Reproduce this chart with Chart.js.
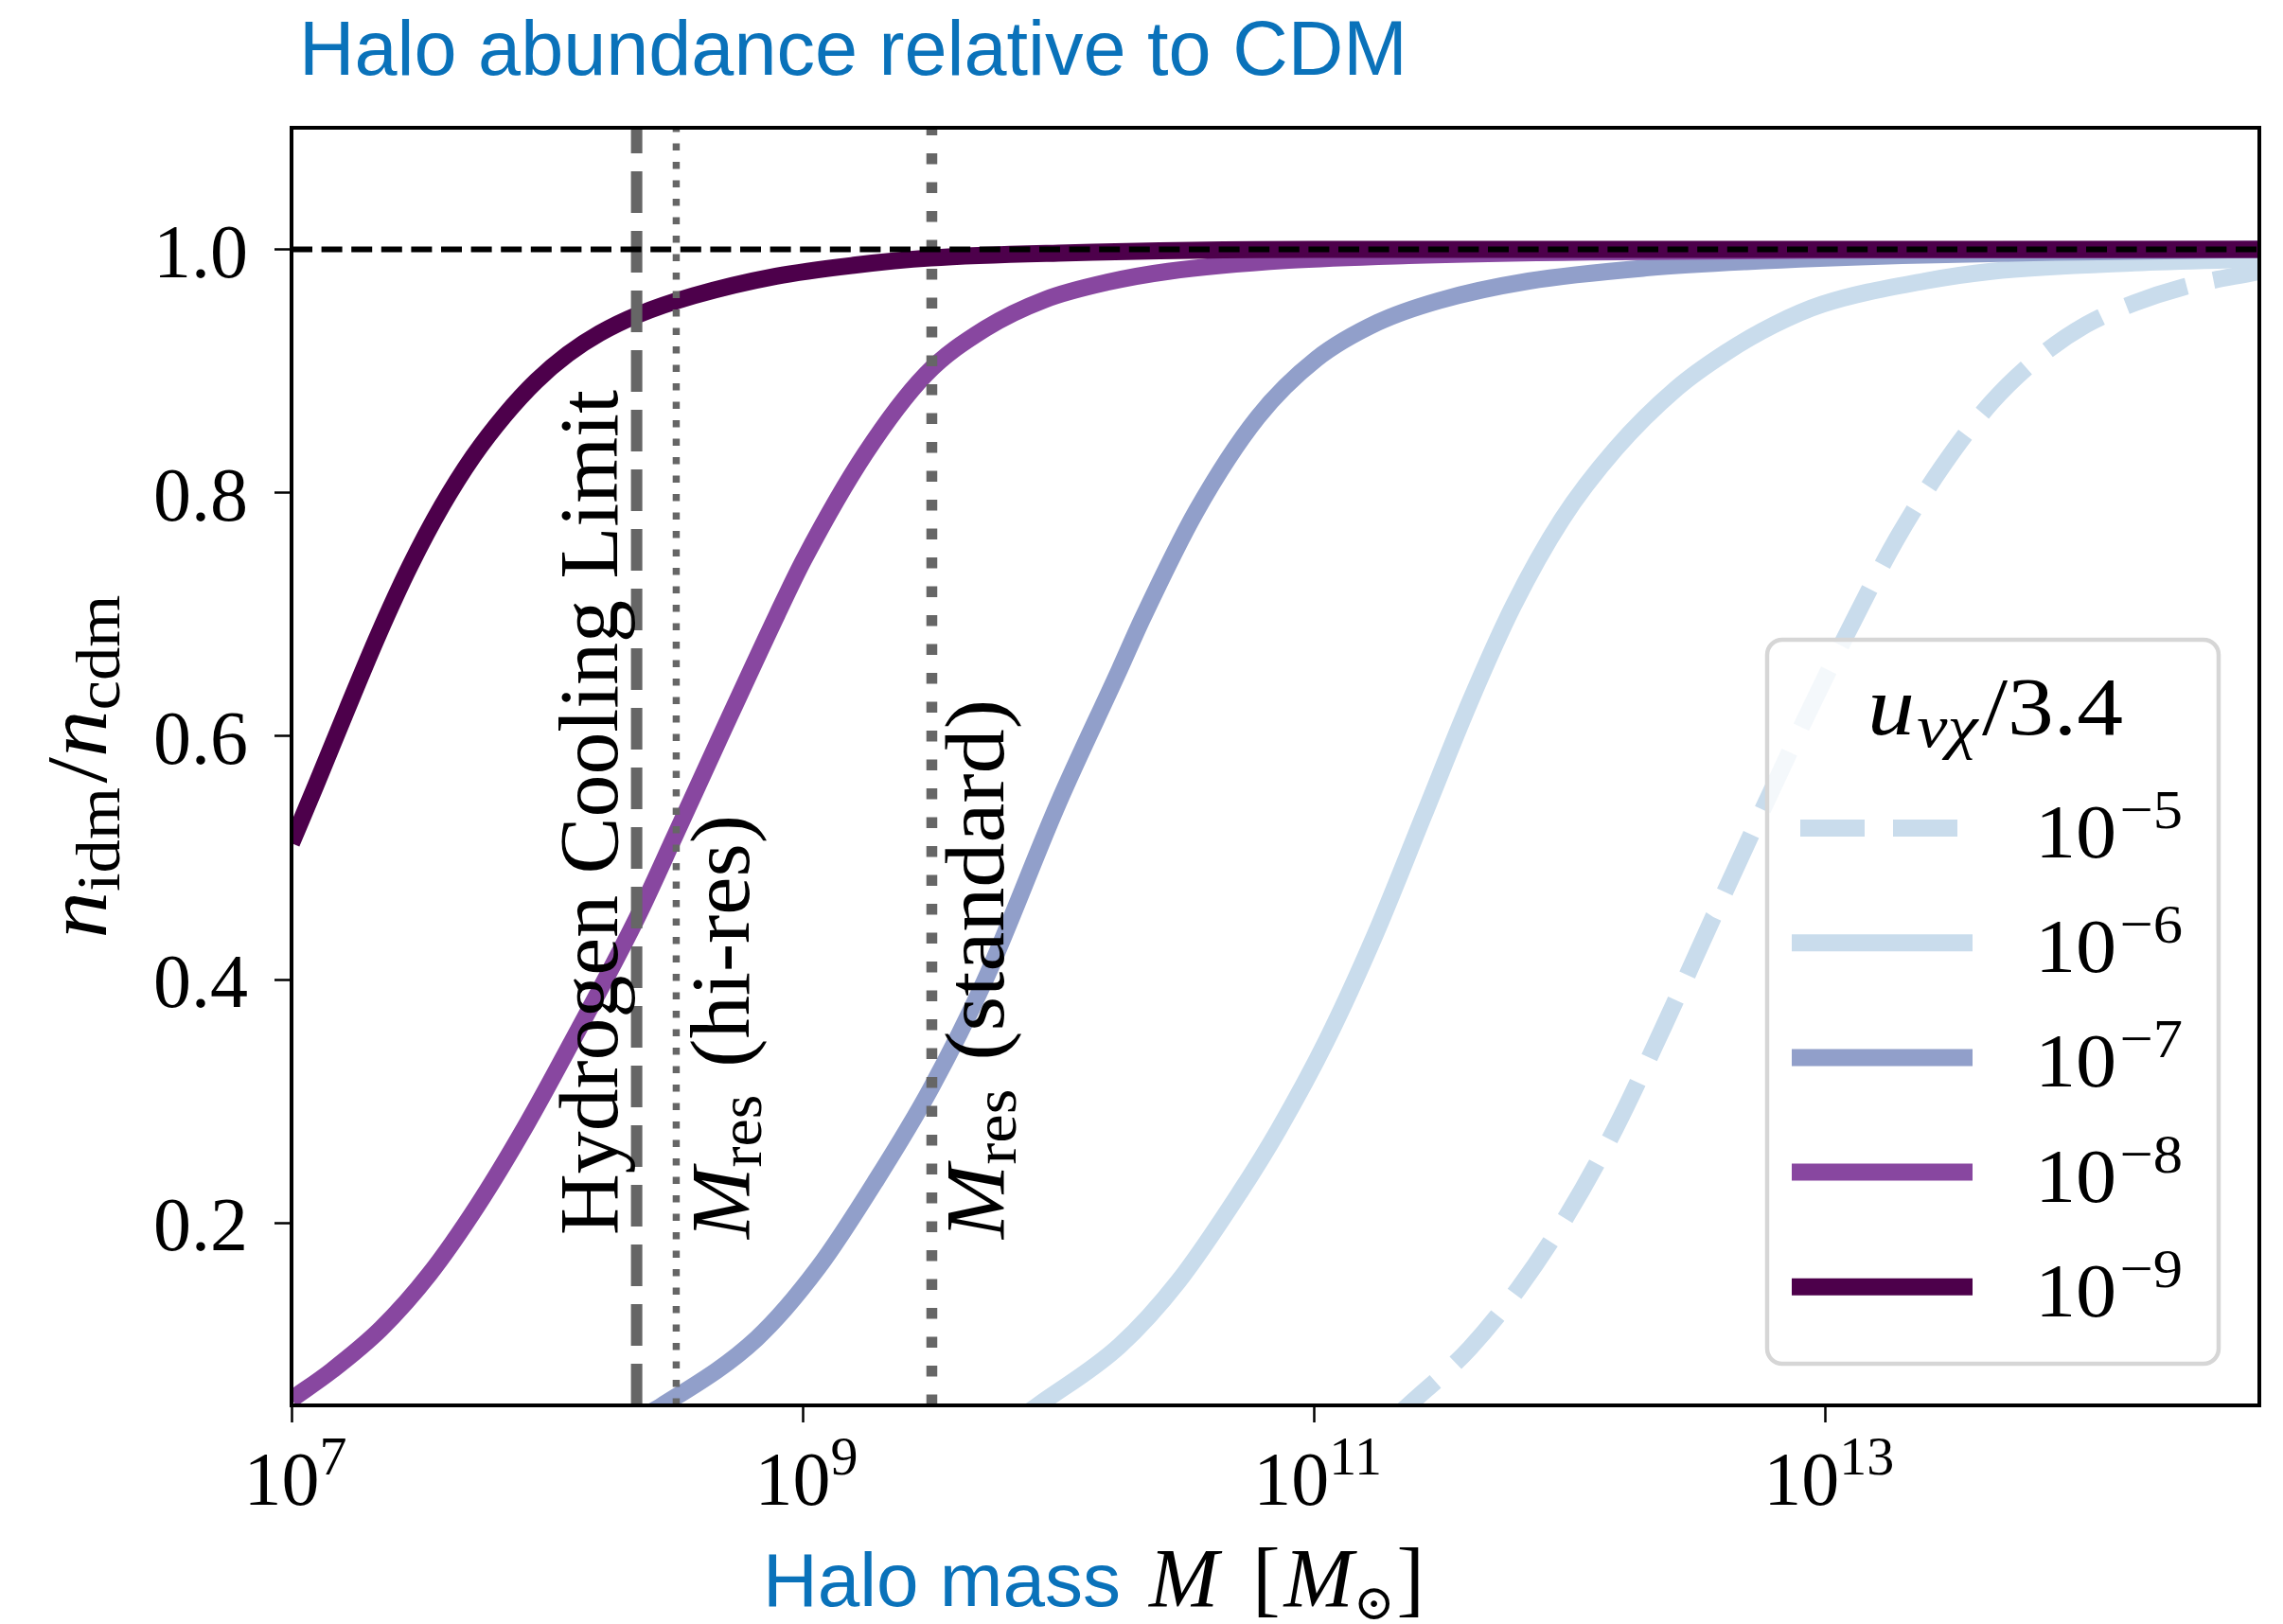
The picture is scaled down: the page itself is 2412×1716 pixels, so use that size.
<!DOCTYPE html>
<html><head><meta charset="utf-8">
<script src="https://cdn.jsdelivr.net/npm/chart.js@4.4.1/dist/chart.umd.min.js"></script>
<style>html,body{margin:0;padding:0;background:#fff;}canvas{display:block;}</style>
</head><body>
<canvas id="c" width="2412" height="1716"></canvas>
<script>
// ---------------- data ----------------
const legendExponents = ['\u22125', '\u22126', '\u22127', '\u22128', '\u22129'];

const massU5 = [1.95e11, 2.344e11, 4.074e11, 6.310e11, 9.772e11, 1.514e12, 2.344e12, 3.631e12, 5.623e12, 8.710e12, 1.230e13, 1.905e13, 2.884e13, 4.467e13, 6.918e13, 1.047e14, 1.622e14, 2.512e14, 5.0e14];
const fracU5 = [0.035, 0.050, 0.097, 0.146, 0.206, 0.278, 0.362, 0.450, 0.537, 0.622, 0.686, 0.762, 0.822, 0.874, 0.912, 0.938, 0.956, 0.969, 0.982];

const massU6 = [6.6e9, 8.318e9, 1.738e10, 2.951e10, 5.129e10, 7.244e10, 1.122e11, 1.738e11, 2.692e11, 4.074e11, 6.026e11, 9.333e11, 1.514e12, 2.630e12, 4.074e12, 6.310e12, 9.772e12, 2.455e13, 4.467e13, 1.622e14, 5.0e14];
const fracU6 = [0.035, 0.050, 0.099, 0.152, 0.225, 0.276, 0.350, 0.437, 0.535, 0.628, 0.707, 0.778, 0.836, 0.886, 0.915, 0.938, 0.955, 0.974, 0.982, 0.989, 0.992];

const massU7 = [2.09e8, 2.818e8, 6.607e8, 1.148e9, 1.950e9, 3.162e9, 5.129e9, 1.0e10, 1.738e10, 2.138e10, 3.467e10, 6.026e10, 1.023e11, 1.778e11, 3.090e11, 6.918e11, 2.042e12, 4.898e12, 2.0e13, 1.0e14, 5.0e14];
const fracU7 = [0.035, 0.050, 0.105, 0.163, 0.236, 0.310, 0.398, 0.545, 0.655, 0.697, 0.785, 0.862, 0.910, 0.940, 0.958, 0.974, 0.985, 0.990, 0.995, 0.998, 1.000];

const massU8 = [1.0e7, 1.445e7, 2.239e7, 3.467e7, 5.370e7, 8.318e7, 1.259e8, 2.239e8, 3.162e8, 4.677e8, 7.943e8, 1.016e9, 1.754e9, 3.020e9, 5.188e9, 8.913e9, 1.549e10, 2.692e10, 7.943e10, 2.344e11, 1.202e12, 1.0e13, 5.0e14];
const fracU8 = [0.055, 0.079, 0.113, 0.158, 0.215, 0.281, 0.350, 0.450, 0.518, 0.596, 0.700, 0.746, 0.832, 0.897, 0.935, 0.959, 0.973, 0.982, 0.991, 0.995, 0.998, 0.9995, 1.000];

const massU9 = [1.0e7, 1.242e7, 1.648e7, 2.193e7, 2.911e7, 3.873e7, 5.140e7, 6.840e7, 9.080e7, 1.205e8, 1.603e8, 2.249e8, 3.750e8, 7.870e8, 1.585e9, 3.162e9, 1.0e10, 1.0e11, 5.0e14];
const fracU9 = [0.512, 0.559, 0.622, 0.684, 0.740, 0.789, 0.830, 0.864, 0.892, 0.914, 0.931, 0.946, 0.962, 0.978, 0.987, 0.993, 0.997, 1.000, 1.000];

const massLimits = [2.24e8, 3.2e8, 3.2e9];   // hydrogen cooling, M_res hi-res, M_res standard
const xTickValues = [1e7, 1e9, 1e11, 1e13];
const xTickExponents = ['7', '9', '11', '13'];
const yTickValues = [0.2, 0.4, 0.6, 0.8, 1.0];
const yTickLabels = ['0.2', '0.4', '0.6', '0.8', '1.0'];
const xRange = [1e7, 5e14];
const yRange = [0.05, 1.1];
const cdmLevel = 1.0;

// ---------------- styles ----------------
const SERIF = '"Liberation Serif", "DejaVu Serif", serif';
const SANS = '"Liberation Sans", "DejaVu Sans", sans-serif';
const BLUE = '#0a72ba';
const seriesColors = ['#c9dcec', '#c9dcec', '#919fca', '#8847a0', '#4d004b'];
const CURVE_W = 18;

function pts(m, v) { return m.map((x, i) => ({ x: x, y: v[i] })); }

const curveSets = [
  { m: massU5, v: fracU5, dash: [67, 29] },
  { m: massU6, v: fracU6, dash: [] },
  { m: massU7, v: fracU7, dash: [] },
  { m: massU8, v: fracU8, dash: [] },
  { m: massU9, v: fracU9, dash: [] }
];

const datasets = [];
// reference lines on top (index 0 is drawn last)
datasets.push({ data: [{ x: xRange[0], y: cdmLevel }, { x: xRange[1], y: cdmLevel }], borderColor: '#000', borderWidth: 6, borderDash: [22, 9.6] });
datasets.push({ data: [{ x: massLimits[0], y: yRange[0] }, { x: massLimits[0], y: yRange[1] }], borderColor: '#666666', borderWidth: 12, borderDash: [44, 19] });
datasets.push({ data: [{ x: massLimits[1], y: yRange[0] }, { x: massLimits[1], y: yRange[1] }], borderColor: '#666666', borderWidth: 7.5, borderDash: [7.5, 12] });
datasets.push({ data: [{ x: massLimits[2], y: yRange[0] }, { x: massLimits[2], y: yRange[1] }], borderColor: '#666666', borderWidth: 11.5, borderDash: [11.5, 19] });
for (let i = curveSets.length - 1; i >= 0; i--) {
  const c = curveSets[i];
  datasets.push({ data: pts(c.m, c.v), borderColor: seriesColors[i], borderWidth: CURVE_W, borderDash: c.dash, cubicInterpolationMode: 'monotone', borderJoinStyle: 'round' });
}
datasets.forEach(d => { d.pointRadius = 0; d.fill = false; d.clip = 0; });

// ---------------- text helpers ----------------
function runsWidth(ctx, runs) {
  let w = 0;
  for (const r of runs) { ctx.font = r.font; w += ctx.measureText(r.t).width + (r.dx || 0); }
  return w;
}
// draws a row of text runs; optional fit = target width (horizontal stretch)
function drawRuns(ctx, x, y, runs, align, color, fit) {
  const w = runsWidth(ctx, runs);
  const k = fit ? fit / w : 1;
  const tw = w * k;
  const x0 = align === 'center' ? x - tw / 2 : (align === 'right' ? x - tw : x);
  ctx.save();
  ctx.translate(x0, y); ctx.scale(k, 1);
  ctx.textAlign = 'left'; ctx.textBaseline = 'alphabetic';
  let cx = 0;
  for (const r of runs) {
    ctx.font = r.font; ctx.fillStyle = r.color || color || '#000';
    cx += (r.dx || 0);
    ctx.fillText(r.t, cx, (r.dy || 0));
    cx += ctx.measureText(r.t).width;
  }
  ctx.restore();
}
function drawRotated(ctx, x, y, runs, align, fit) {
  ctx.save(); ctx.translate(x, y); ctx.rotate(-Math.PI / 2);
  drawRuns(ctx, 0, 0, runs, align, '#000', fit);
  ctx.restore();
}
const F = (size, style) => (style ? style + ' ' : '') + size + 'px ' + SERIF;

const decor = {
  id: 'decor',
  afterDatasetsDraw(chart) {
    const ctx = chart.ctx, a = chart.chartArea, xs = chart.scales.x;
    // annotations
    const hx = xs.getPixelForValue(massLimits[0]);
    const rx = xs.getPixelForValue(massLimits[1]);
    const sx = xs.getPixelForValue(massLimits[2]);
    drawRotated(ctx, hx - 21, 1305, [{ t: 'Hydrogen Cooling Limit', font: F(88) }], 'left', 893);
    drawRotated(ctx, rx + 77, 1309, [{ t: 'M', font: F(88, 'italic') }, { t: 'res', font: F(64), dy: 13 }, { t: ' (hi-res)', font: F(88), dx: 6 }], 'left', 448);
    drawRotated(ctx, sx + 76, 1309, [{ t: 'M', font: F(88, 'italic') }, { t: 'res', font: F(64), dy: 13 }, { t: ' (standard)', font: F(88), dx: 6 }], 'left', 570);
    // frame
    ctx.save();
    ctx.strokeStyle = '#000'; ctx.lineWidth = 4; ctx.setLineDash([]);
    ctx.strokeRect(a.left, a.top, a.right - a.left, a.bottom - a.top);
    ctx.restore();
    // legend
    ctx.save();
    const lx = 1867, ly = 676, lw = 477, lh = 765, rr = 16;
    ctx.beginPath(); ctx.roundRect(lx, ly, lw, lh, rr);
    ctx.fillStyle = 'rgba(255,255,255,0.8)'; ctx.fill();
    ctx.lineWidth = 4.5; ctx.strokeStyle = '#d6d6d6'; ctx.stroke();
    drawRuns(ctx, 2108, 776, [{ t: 'u', font: F(88, 'italic') }, { t: '\u03bd\u03c7', font: F(64, 'italic'), dy: 13, dx: 2 }, { t: '/3.4', font: F(86), dx: 4 }], 'center', '#000', 270);
    for (let i = 0; i < curveSets.length; i++) {
      const y = 875 + i * 121.2;
      ctx.beginPath();
      ctx.strokeStyle = seriesColors[i]; ctx.lineWidth = CURVE_W; ctx.lineCap = 'butt';
      if (curveSets[i].dash.length) { ctx.setLineDash([68, 30]); ctx.moveTo(1902, y); ctx.lineTo(2070, y); }
      else { ctx.setLineDash([]); ctx.moveTo(1893, y); ctx.lineTo(2084, y); }
      ctx.stroke();
      ctx.setLineDash([]);
      drawRuns(ctx, 2150, y + 31, [{ t: '10', font: F(80) }, { t: legendExponents[i], font: F(58), dy: -31, dx: 3 }], 'left', '#000', 156);
    }
    ctx.restore();
  },
  afterDraw(chart) {
    const ctx = chart.ctx, xs = chart.scales.x, ys = chart.scales.y;
    ctx.save();
    // y tick labels
    yTickValues.forEach((v, i) => {
      drawRuns(ctx, 262, ys.getPixelForValue(v) + 29, [{ t: yTickLabels[i], font: F(80) }], 'right');
    });
    // x tick labels
    xTickValues.forEach((v, i) => {
      drawRuns(ctx, xs.getPixelForValue(v) + 4, 1590, [{ t: '10', font: F(80) }, { t: xTickExponents[i], font: F(58), dy: -32 }], 'center');
    });
    // title
    ctx.font = '81px ' + SANS; ctx.fillStyle = BLUE; ctx.textAlign = 'left'; ctx.textBaseline = 'alphabetic';
    ctx.fillText('Halo abundance relative to CDM', 316, 79);
    // x label
    drawRuns(ctx, 806, 1697, [
      { t: 'Halo mass', font: '80px ' + SANS, color: BLUE },
      { t: 'M', font: F(88, 'italic'), dx: 30 },
      { t: '[', font: F(88), dx: 36 },
      { t: 'M', font: F(88, 'italic'), dx: 4 },
      { t: '\u2299', font: F(52), dy: 14 },
      { t: ']', font: F(88), dx: 2 }
    ], 'left', '#000');
    // y label
    drawRotated(ctx, 112, 810, [
      { t: 'n', font: F(92, 'italic') },
      { t: 'idm', font: F(66), dy: 14 },
      { t: '/', font: F(92), dx: 4 },
      { t: 'n', font: F(92, 'italic') },
      { t: 'cdm', font: F(66), dy: 14 }
    ], 'center', 363);
    ctx.restore();
  }
};

new Chart(document.getElementById('c').getContext('2d'), {
  type: 'line',
  data: { datasets: datasets },
  options: {
    responsive: false, animation: false, devicePixelRatio: 1,
    layout: { padding: { left: 0, right: 25, top: 135, bottom: 0 } },
    plugins: { legend: { display: false }, title: { display: false }, tooltip: { enabled: false } },
    scales: {
      x: {
        type: 'logarithmic', min: xRange[0], max: xRange[1],
        border: { display: false },
        grid: { drawOnChartArea: false, drawTicks: true, tickLength: 18, tickWidth: 2.5, tickColor: '#000' },
        ticks: { display: false },
        afterBuildTicks: s => { s.ticks = xTickValues.map(v => ({ value: v })); },
        afterFit: s => { s.height = 231; }
      },
      y: {
        type: 'linear', min: yRange[0], max: yRange[1],
        border: { display: false },
        grid: { drawOnChartArea: false, drawTicks: true, tickLength: 18, tickWidth: 2.5, tickColor: '#000' },
        ticks: { display: false },
        afterBuildTicks: s => { s.ticks = yTickValues.map(v => ({ value: v })); },
        afterFit: s => { s.width = 308; }
      }
    }
  },
  plugins: [decor]
});
</script>
</body></html>
